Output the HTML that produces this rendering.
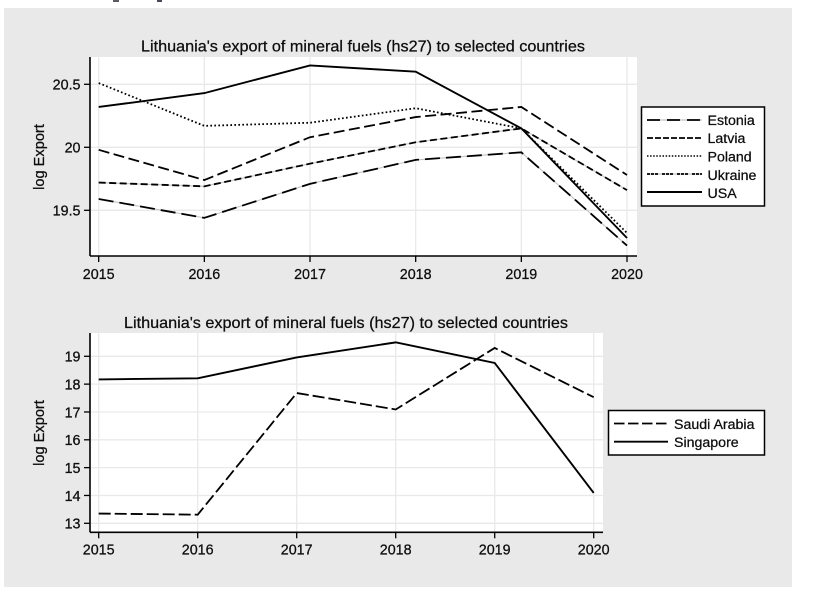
<!DOCTYPE html>
<html lang="en">
<head>
<meta charset="utf-8">
<title>Lithuania's export of mineral fuels</title>
<style>
html,body{margin:0;padding:0;background:#fff;width:826px;height:600px;overflow:hidden}
svg{display:block}
text{font-family:"Liberation Sans",Arial,sans-serif;fill:#0c0c0c;stroke:#0c0c0c;stroke-width:0.25px}
</style>
</head>
<body>
<svg id="fig" width="826" height="600" viewBox="0 0 826 600" xmlns="http://www.w3.org/2000/svg">
  <defs><filter id="soft" x="-2%" y="-2%" width="104%" height="104%"><feGaussianBlur stdDeviation="0.28"/></filter></defs>
  <g filter="url(#soft)">
    <rect x="113" y="0" width="6" height="2" fill="#5a5a60"/>
    <rect x="157" y="0" width="5" height="2" fill="#4a4a55"/>
    <rect x="4" y="8" width="788" height="579" fill="#e9e9e9"/>

    <g id="top-chart">
      <rect x="90" y="57" width="547" height="199" fill="#fff"/>
      <g id="top-grid"></g>
      <g id="top-axes"></g>
      <g id="top-series"></g>
      <text x="363" y="51.5" font-size="15.9" text-anchor="middle" textLength="444" lengthAdjust="spacingAndGlyphs">Lithuania's export of mineral fuels (hs27) to selected countries</text>
      <text transform="translate(44,157) rotate(-90)" font-size="14.6" text-anchor="middle">log Export</text>
      <g>
        <rect x="641.5" y="107" width="123" height="99" fill="#fff" stroke="#000" stroke-width="1.5"/>
        <g>
          <line x1="647" x2="702" y1="120" y2="120" stroke="#c4c4c4" stroke-width="1.2"/>
          <line x1="647" x2="702" y1="120" y2="120" stroke="#000" stroke-width="1.8" stroke-dasharray="13 7"/>
          <text x="707.5" y="125" font-size="14.2">Estonia</text>
        </g>
        <g>
          <line x1="647" x2="702" y1="138" y2="138" stroke="#000" stroke-width="1.8" stroke-dasharray="6 2"/>
          <text x="707.5" y="143" font-size="14.2">Latvia</text>
        </g>
        <g>
          <line x1="647" x2="702" y1="156" y2="156" stroke="#000" stroke-width="1.6" stroke-dasharray="1.5 1.6"/>
          <text x="707.5" y="161.5" font-size="14.2">Poland</text>
        </g>
        <g>
          <line x1="647" x2="702" y1="174" y2="174" stroke="#c4c4c4" stroke-width="1.2"/>
          <line x1="647" x2="702" y1="174" y2="174" stroke="#000" stroke-width="1.8" stroke-dasharray="3 1 3 1 3 4"/>
          <text x="707.5" y="180" font-size="14.2">Ukraine</text>
        </g>
        <g>
          <line x1="647" x2="702" y1="192" y2="192" stroke="#000" stroke-width="1.9"/>
          <text x="707.5" y="198" font-size="14.2">USA</text>
        </g>
      </g>
    </g>

    <g id="bottom-chart">
      <rect x="90" y="333" width="513" height="199.5" fill="#fff"/>
      <g id="bottom-grid"></g>
      <g id="bottom-axes"></g>
      <g id="bottom-series"></g>
      <text x="346" y="328" font-size="15.9" text-anchor="middle" textLength="444" lengthAdjust="spacingAndGlyphs">Lithuania's export of mineral fuels (hs27) to selected countries</text>
      <text transform="translate(44,433) rotate(-90)" font-size="14.6" text-anchor="middle">log Export</text>
      <g>
        <rect x="608.5" y="410.5" width="156" height="44.5" fill="#fff" stroke="#000" stroke-width="1.5"/>
        <g>
          <line x1="614" x2="668" y1="423.5" y2="423.5" stroke="#000" stroke-width="1.8" stroke-dasharray="10.5 3.5"/>
          <text x="674" y="429" font-size="14.2">Saudi Arabia</text>
        </g>
        <g>
          <line x1="614" x2="668" y1="441.7" y2="441.7" stroke="#000" stroke-width="1.9"/>
          <text x="674" y="447" font-size="14.2">Singapore</text>
        </g>
      </g>
    </g>
  </g>
</svg>
<script>
var years = [2015, 2016, 2017, 2018, 2019, 2020];
var estonia = [19.59, 19.44, 19.71, 19.90, 19.96, 19.22];
var latvia = [19.98, 19.74, 20.08, 20.24, 20.32, 19.78];
var poland = [20.51, 20.17, 20.195, 20.31, 20.15, 19.32];
var ukraine = [19.72, 19.69, 19.87, 20.04, 20.15, 19.66];
var usa = [20.32, 20.43, 20.65, 20.60, 20.15, 19.28];
var saudiArabia = [13.35, 13.31, 17.68, 17.09, 19.30, 17.53];
var singapore = [18.17, 18.21, 18.96, 19.50, 18.76, 14.09];
var topYTicks = [19.5, 20, 20.5];
var bottomYTicks = [13, 14, 15, 16, 17, 18, 19];

var NS = 'http://www.w3.org/2000/svg';
function make(parent, tag, attrs, txt) {
  var el = document.createElementNS(NS, tag);
  for (var k in attrs) el.setAttribute(k, attrs[k]);
  if (txt !== undefined) el.textContent = txt;
  parent.appendChild(el);
  return el;
}
function linear(d0, d1, r0, r1) {
  return function (v) { return r0 + (v - d0) * (r1 - r0) / (d1 - d0); };
}
function pointsOf(values, xs, ys) {
  return values.map(function (v, i) { return xs(years[i]).toFixed(2) + ',' + ys(v).toFixed(2); }).join(' ');
}
function drawFrame(prefix, xs, ys, yTicks, box, labelBaseline) {
  var grid = document.getElementById(prefix + '-grid');
  var axes = document.getElementById(prefix + '-axes');
  yTicks.forEach(function (t) {
    var y = ys(t);
    var g = make(grid, 'line', {x1: box.left, x2: box.right, y1: y, y2: y, stroke: '#e9e9e9', 'stroke-width': 1.3});
    
    
    var m = make(axes, 'line', {x1: box.left - 6, x2: box.left, y1: y, y2: y, stroke: '#000', 'stroke-width': 1.3});
    
    
    var l = make(axes, 'text', {x: 80.5, y: y + 5.3, 'font-size': 14.3, 'text-anchor': 'end'}, String(t));
    
    
  });
  years.forEach(function (yr) {
    var x = xs(yr);
    var g = make(grid, 'line', {x1: x, x2: x, y1: box.top, y2: box.bottom, stroke: '#e9e9e9', 'stroke-width': 1.3});
    
    
    var m = make(axes, 'line', {x1: x, x2: x, y1: box.bottom, y2: box.bottom + 6, stroke: '#000', 'stroke-width': 1.3});
    
    
    var l = make(axes, 'text', {x: x, y: labelBaseline, 'font-size': 14.3, 'text-anchor': 'middle'}, String(yr));
    
    
  });
  var ya = make(axes, 'line', {x1: box.left, x2: box.left, y1: box.top, y2: box.bottom, stroke: '#000', 'stroke-width': 1.6});
  
  
  var xa = make(axes, 'line', {x1: box.left, x2: box.right, y1: box.bottom, y2: box.bottom, stroke: '#000', 'stroke-width': 1.6});
  
  
}
function drawSeries(prefix, name, values, xs, ys, dash, underlay, width) {
  var host = document.getElementById(prefix + '-series');
  var pts = pointsOf(values, xs, ys);
  if (underlay) {
    var u = make(host, 'polyline', {points: pts, fill: 'none', stroke: '#c4c4c4', 'stroke-width': 1.1});
    
    
  }
  var attrs = {points: pts, fill: 'none', stroke: '#000', 'stroke-width': width, 'stroke-linejoin': 'miter'};
  if (dash) attrs['stroke-dasharray'] = dash;
  var p = make(host, 'polyline', attrs);
  
  
}

var xTop = linear(2015, 2020, 98.7, 627);
var yTop = linear(20, 20.5, 147.3, 84.3);
drawFrame('top', xTop, yTop, topYTicks, {left: 90, right: 637, top: 57, bottom: 256}, 279);
drawSeries('top', 'series-estonia', estonia, xTop, yTop, '15 6', true, 1.8);
drawSeries('top', 'series-latvia', latvia, xTop, yTop, '11 4.5', false, 1.8);
drawSeries('top', 'series-poland', poland, xTop, yTop, '1.7 2.3', false, 1.8);
drawSeries('top', 'series-ukraine', ukraine, xTop, yTop, '7 3.5', true, 1.8);
drawSeries('top', 'series-usa', usa, xTop, yTop, null, false, 1.9);

var xBottom = linear(2015, 2020, 98.7, 593.7);
var yBottom = linear(13, 19, 523.3, 356.3);
drawFrame('bottom', xBottom, yBottom, bottomYTicks, {left: 90, right: 603, top: 333, bottom: 532.3}, 554.7);
drawSeries('bottom', 'series-saudi-arabia', saudiArabia, xBottom, yBottom, '12 4', false, 1.8);
drawSeries('bottom', 'series-singapore', singapore, xBottom, yBottom, null, false, 1.9);
</script>
</body>
</html>
